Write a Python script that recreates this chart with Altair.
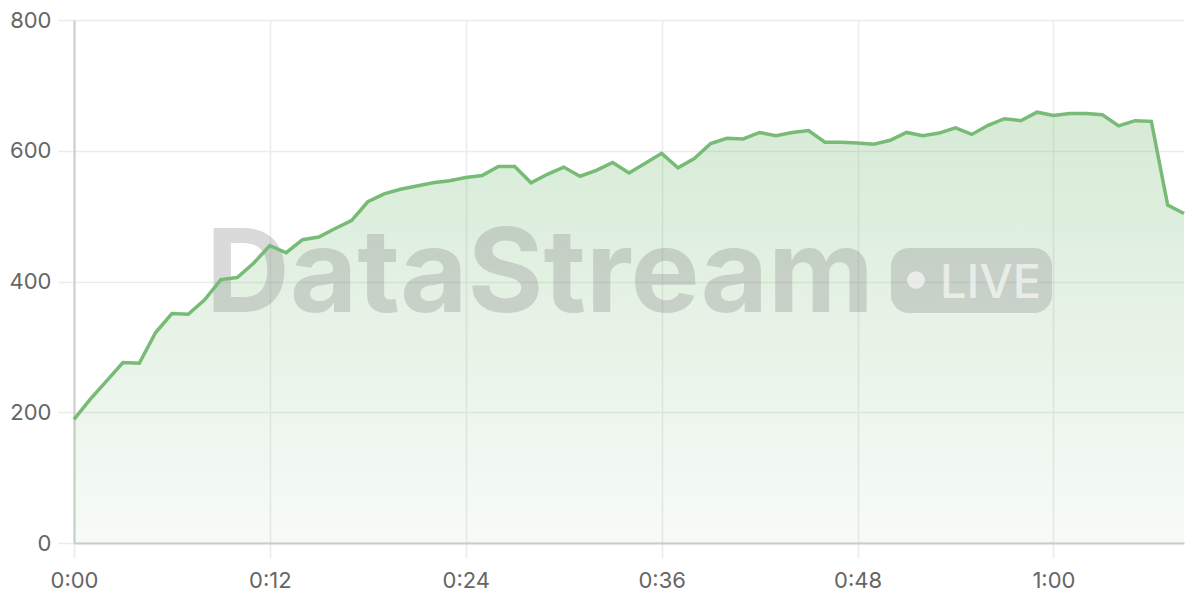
import altair as alt
import pandas as pd

minutes = list(range(0, 69))
values = [189, 220, 248, 276, 275, 322, 351, 350, 372, 403,
          406, 428, 455, 444, 464, 468, 481, 493, 522, 534,
          541, 546, 551, 554, 559, 562, 576, 576, 551, 564,
          575, 561, 570, 582, 566, 581, 596, 574, 588, 611,
          619, 618, 628, 623, 628, 631, 613, 613, 612, 610,
          616, 628, 623, 627, 635, 625, 639, 649, 646, 659,
          654, 657, 657, 655, 638, 646, 645, 517, 504]
x_ticks = [0, 12, 24, 36, 48, 60]
y_ticks = [0, 200, 400, 600, 800]
wm_title = ["DataStream"]
wm_badge = ["LIVE"]

df = pd.DataFrame({"minute": minutes, "value": values})
wm_df = pd.DataFrame({"title": wm_title, "badge": wm_badge})

LINE = "#77bb77"
GRID = "#ebebeb"
FONT = "Inter"

x_enc = alt.X(
    "minute:Q",
    scale=alt.Scale(domain=[0, 68], nice=False, zero=False),
    axis=alt.Axis(
        values=x_ticks,
        labelExpr="floor(datum.value/60) + ':' + (datum.value%60 < 10 ? '0' : '') + (datum.value%60)",
        title=None, grid=True, gridColor=GRID, gridWidth=1.5,
        domainColor="#cccccc", domainWidth=2,
        tickColor=GRID, tickSize=15, tickWidth=1.5,
        labelFontSize=22, labelColor="#666666", labelFont=FONT, labelPadding=12,
        labelFlush=False,
    ),
)
y_enc = alt.Y(
    "value:Q",
    scale=alt.Scale(domain=[0, 800], nice=False),
    axis=alt.Axis(
        values=y_ticks, title=None, grid=True, gridColor=GRID, gridWidth=1.5,
        domainColor="#cccccc", domainWidth=2,
        tickColor=GRID, tickSize=16, tickWidth=1.5,
        labelFontSize=22, labelColor="#666666", labelFont=FONT, labelPadding=7,
    ),
)

area = alt.Chart(df).mark_area(
    interpolate="linear",
    color=alt.Gradient(
        gradient="linear",
        stops=[
            alt.GradientStop(color="rgba(119,187,119,0.30)", offset=0),
            alt.GradientStop(color="rgba(119,187,119,0.06)", offset=1),
        ],
        x1=1, x2=1, y1=0, y2=1,
    ),
).encode(x=x_enc, y=y_enc)

line = alt.Chart(df).mark_line(color=LINE, strokeWidth=3.5, interpolate="linear").encode(
    x="minute:Q", y="value:Q"
)

wm_text = alt.Chart(wm_df).mark_text(
    font=FONT, fontSize=116, fontWeight="bold", color="#888888", opacity=0.3,
    align="center", baseline="alphabetic",
).encode(x=alt.value(466), y=alt.value(292), text="title:N")

wm_pill = alt.Chart(wm_df).mark_rect(
    color="#888888", opacity=0.3, cornerRadius=18,
).encode(x=alt.value(817), x2=alt.value(978), y=alt.value(228), y2=alt.value(293))

wm_dot = alt.Chart(wm_df).mark_circle(
    color="#ffffff", opacity=0.6, size=314,
).encode(x=alt.value(842), y=alt.value(260))

wm_badge_text = alt.Chart(wm_df).mark_text(
    font=FONT, fontSize=47, fontWeight=500, color="#ffffff", opacity=0.6,
    align="left", baseline="alphabetic",
).encode(x=alt.value(866), y=alt.value(278), text="badge:N")

chart = alt.layer(area, wm_text, wm_pill, wm_dot, wm_badge_text, line).properties(
    width=1110, height=523,
    autosize=alt.AutoSizeParams(type="none"),
    padding={"left": 66, "top": 12, "right": 8, "bottom": 53},
).configure_view(strokeWidth=0)

chart.save("out.html", embed_options={"renderer": "svg", "actions": False})
